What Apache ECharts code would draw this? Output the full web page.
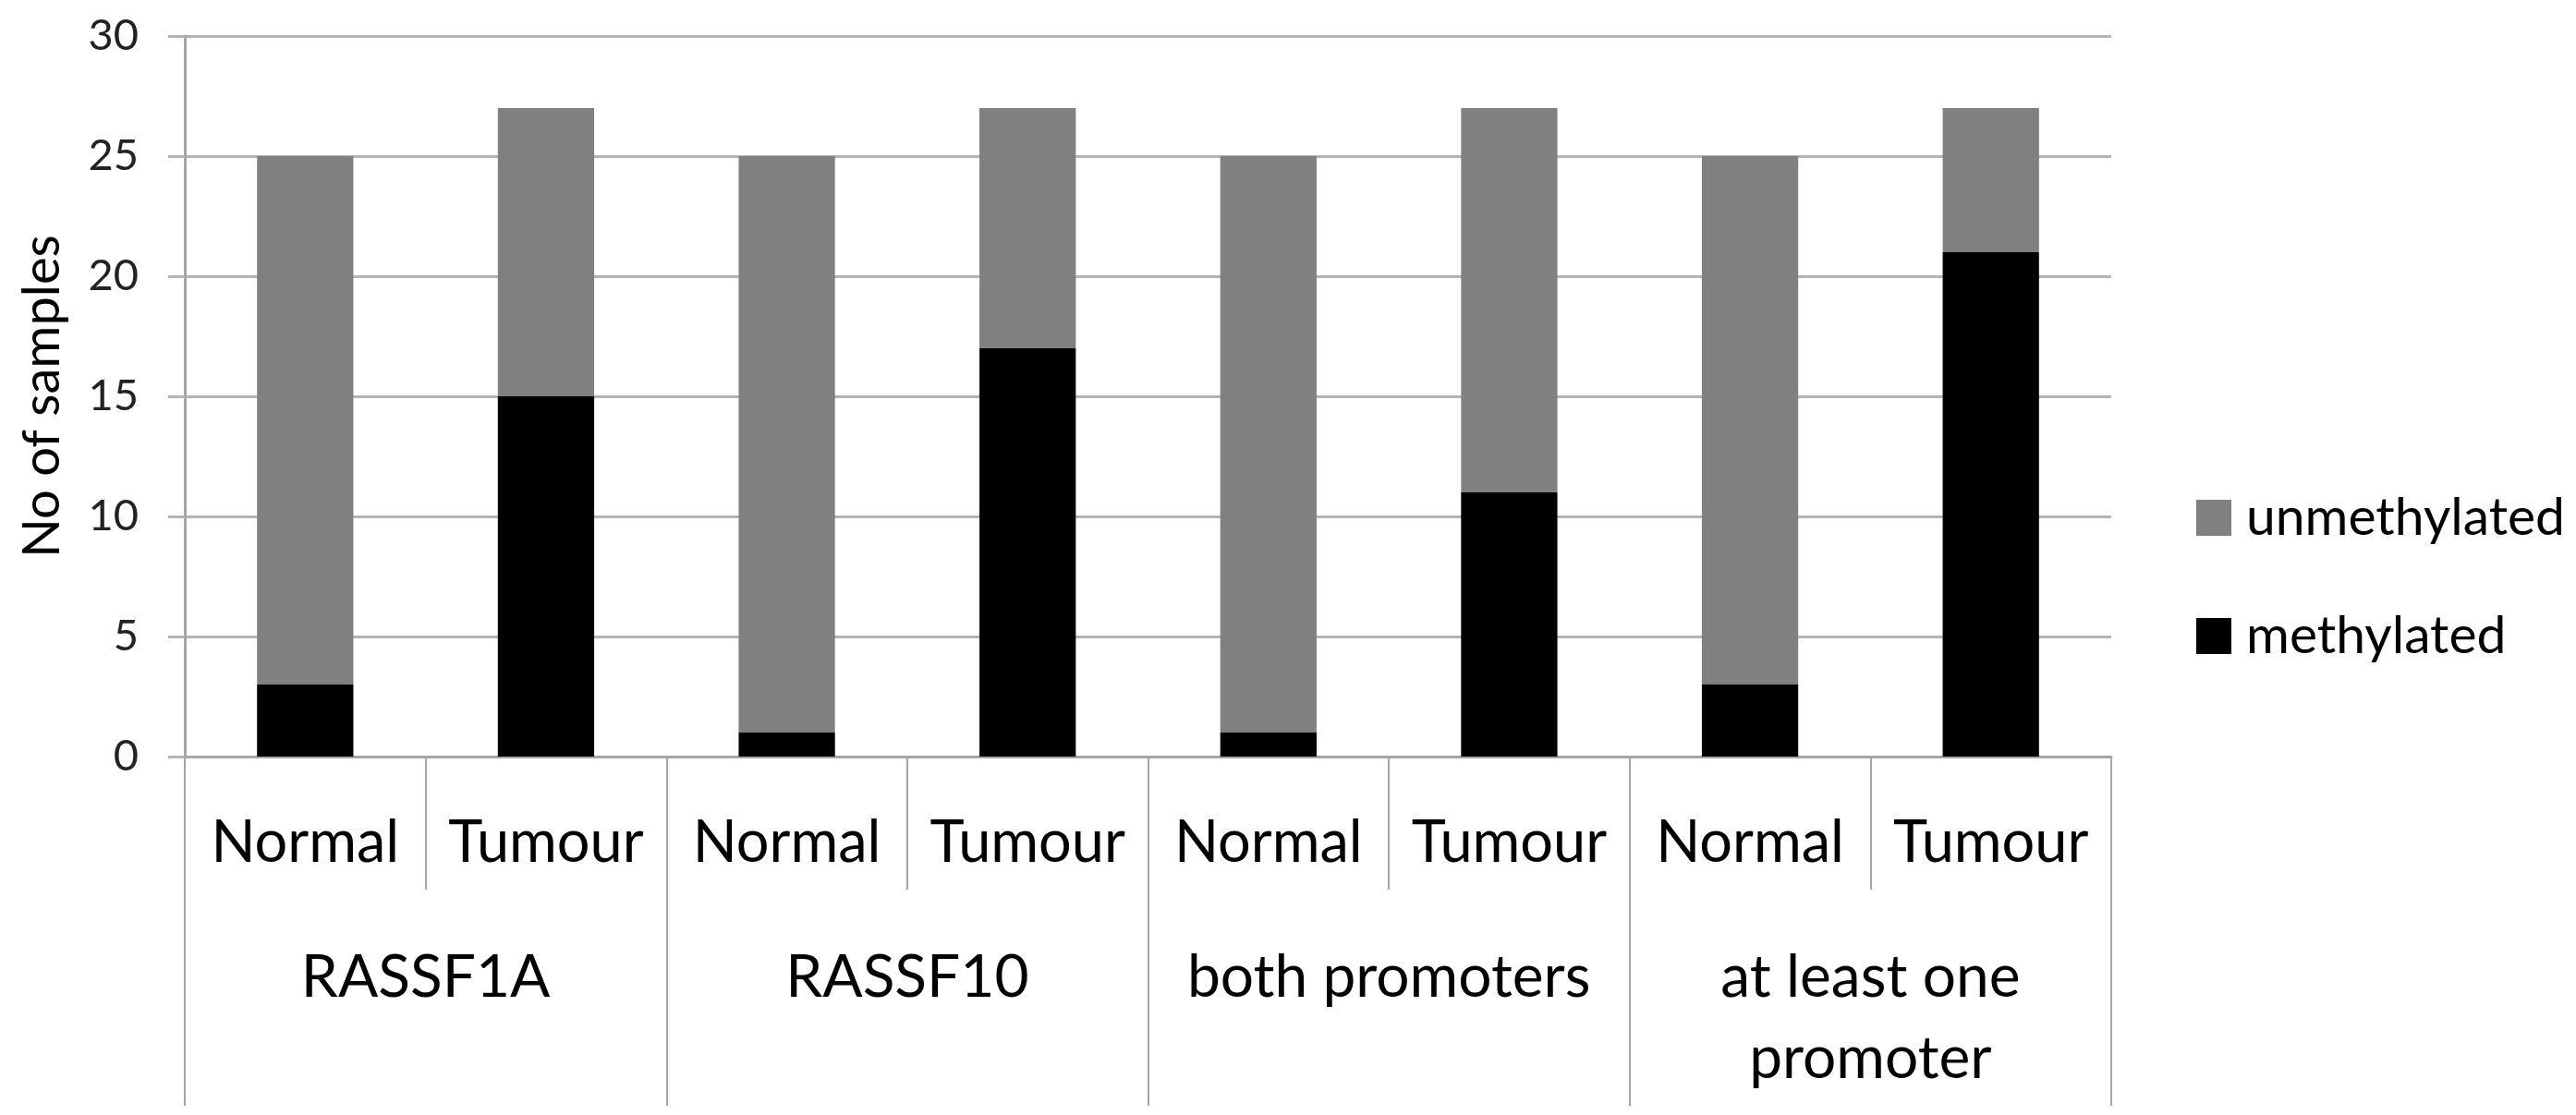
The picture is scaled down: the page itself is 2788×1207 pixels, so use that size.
<!DOCTYPE html>
<html>
<head>
    <meta charset="utf-8">
    <title>Methylation by promoter</title>
    <script type="text/javascript" src="https://cdn.jsdelivr.net/npm/echarts@6/dist/echarts.min.js"></script>
    <style>
        html, body { margin:0; padding:0; background:#fff; }
        #chart { width:2788px; height:1207px; }
    </style>
</head>
<body>
<div id="chart"></div>
<script type="text/javascript">
    // categories (two levels)
    var sampleTypes = ['Normal', 'Tumour', 'Normal', 'Tumour', 'Normal', 'Tumour', 'Normal', 'Tumour'];
    var groups = ['RASSF1A', 'RASSF10', 'both promoters', 'at least one\npromoter'];
    // values
    var methylated   = [3, 15, 1, 17, 1, 11, 3, 21];
    var unmethylated = [22, 12, 24, 10, 24, 16, 22, 6];
    var yTicks = { min: 0, max: 30, interval: 5 };

    var FONT = 'Lato';
    var lineGray = '#a6a6a6';

    var myChart = echarts.init(document.getElementById('chart'));
    myChart.setOption({
        animation: false,
        backgroundColor: '#fff',
        textStyle: { fontFamily: FONT },
        grid: { left: 200, right: 503, top: 39, bottom: 388 },
        legend: {
            orient: 'vertical',
            left: 2372,
            top: 527,
            itemWidth: 38,
            itemHeight: 39,
            itemGap: 71,
            icon: 'rect',
            data: ['unmethylated', 'methylated'],
            textStyle: { fontFamily: FONT, fontSize: 57, color: '#000', padding: [0, 0, 0, 11] }
        },
        xAxis: [{
            type: 'category',
            data: sampleTypes,
            position: 'bottom',
            axisLine: { show: true, lineStyle: { color: lineGray, width: 3 } },
            axisTick: { show: true, interval: 0, length: 144, lineStyle: { color: lineGray, width: 2 } },
            axisLabel: { interval: 0, margin: 62, fontFamily: FONT, fontSize: 63, color: '#000', lineHeight: 63 }
        }, {
            // group labels on a second category axis underneath
            type: 'category',
            data: groups,
            position: 'bottom',
            axisLine: { show: false },
            axisTick: { show: true, interval: 0, length: 378, lineStyle: { color: lineGray, width: 2 } },
            axisLabel: { interval: 0, margin: 195, fontFamily: FONT, fontSize: 64, color: '#000', lineHeight: 88 }
        }],
        yAxis: {
            type: 'value',
            min: yTicks.min,
            max: yTicks.max,
            interval: yTicks.interval,
            name: 'No of samples',
            nameLocation: 'middle',
            nameGap: 126,
            nameTextStyle: { fontFamily: FONT, fontSize: 56, color: '#000' },
            axisLine: { show: true, lineStyle: { color: lineGray, width: 3 } },
            axisTick: { show: true, length: 18, lineStyle: { color: '#b4b4b4', width: 3 } },
            axisLabel: { margin: 50, fontFamily: FONT, fontSize: 47, color: '#222' },
            splitLine: { show: true, lineStyle: { color: '#b4b4b4', width: 3 } }
        },
        series: [{
            name: 'methylated',
            type: 'bar',
            stack: 'total',
            barWidth: '40%',
            data: methylated,
            itemStyle: { color: '#000' }
        }, {
            name: 'unmethylated',
            type: 'bar',
            stack: 'total',
            barWidth: '40%',
            data: unmethylated,
            itemStyle: { color: '#808080' }
        }]
    });
</script>
</body>
</html>
